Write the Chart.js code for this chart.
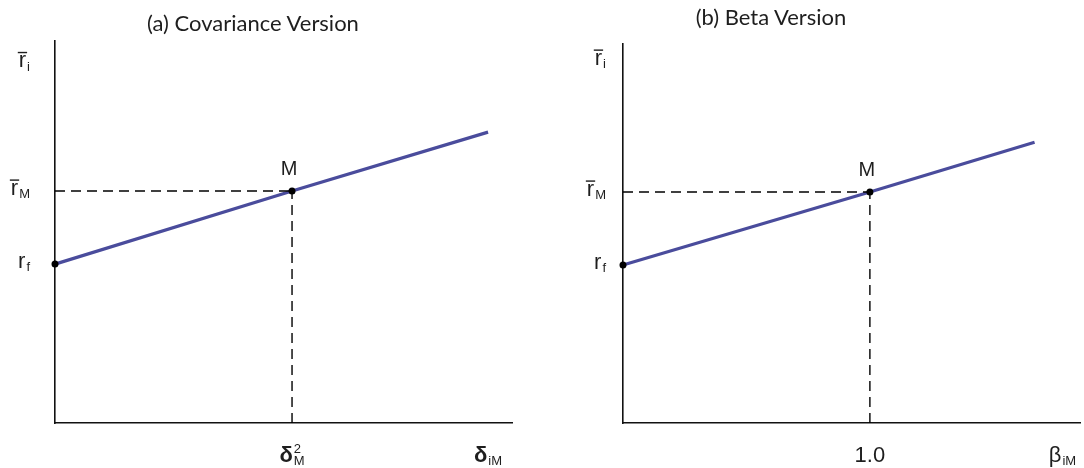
<!DOCTYPE html>
<html>
<head>
<meta charset="utf-8">
<script src="https://cdn.jsdelivr.net/npm/chart.js@4.4.1/dist/chart.umd.min.js"></script>
<style>
body { margin: 0; background: #fff; }
#wrap { position: relative; width: 1084px; height: 468px; overflow: hidden; }
#wrap canvas { position: absolute; top: 0; }
.title { position: absolute; width: 400px; text-align: center; font: 22px Lato, "Open Sans", sans-serif; color: #1e1e1e; line-height: 26px; }
</style>
</head>
<body>
<div id="wrap">
    <canvas id="covChart" width="560" height="468" style="left:0"></canvas>
    <canvas id="betaChart" width="524" height="468" style="left:560px"></canvas>
    <div class="title" style="left:53px; top:10px">(a) Covariance Version</div>
    <div class="title" style="left:571px; top:4px">(b) Beta Version</div>
</div>
<script>
// (a) covariance version - market portfolio M sits at x = 1, y = 1
var covX = [0, 1, 1.827];
var covY = [0.685, 1, 1.254];
var covPointNames = ['', 'M', ''];
var covXMax = 1.928;
var covYMax = 1.647;
var covYTicks = [1.55, 1, 0.685];
var covYLabels = [{t: 'r', sub: 'i', bar: true}, {t: 'r', sub: 'M', bar: true}, {t: 'r', sub: 'f'}];
var covXTicks = [1, 1.827];
var covXLabels = [{t: 'δ', sub: 'M', sup: '2', bold: true}, {t: 'δ', sub: 'iM', bold: true}];

// (b) beta version
var betaX = [0, 1, 1.667];
var betaY = [0.684, 1, 1.216];
var betaPointNames = ['', 'M', ''];
var betaXMax = 1.851;
var betaYMax = 1.641;
var betaYTicks = [1.567, 1, 0.684];
var betaYLabels = [{t: 'r', sub: 'i', bar: true}, {t: 'r', sub: 'M', bar: true}, {t: 'r', sub: 'f'}];
var betaXTicks = [1, 1.78];
var betaXLabels = [{t: '1.0'}, {t: 'β', sub: 'iM'}];

var FONT = '"Liberation Sans", Arial, sans-serif';
var LINE_COLOR = '#4a4c9c';

function drawLabel(ctx, lab, x, y, align, size, small) {
    var mainFont = (lab.bold ? 'bold ' : '') + size + 'px ' + FONT;
    ctx.font = mainFont;
    var w = ctx.measureText(lab.t).width;
    ctx.font = small + 'px ' + FONT;
    var ws = lab.sub ? ctx.measureText(lab.sub).width : 0;
    var wp = lab.sup ? ctx.measureText(lab.sup).width : 0;
    var total = w + Math.max(ws, wp) + (ws || wp ? 1 : 0);
    var x0 = align === 'right' ? x - total : x - total / 2;
    ctx.fillStyle = '#1e1e1e';
    ctx.textAlign = 'left';
    ctx.textBaseline = 'alphabetic';
    ctx.font = mainFont;
    ctx.fillText(lab.t, x0, y);
    ctx.font = small + 'px ' + FONT;
    if (lab.sub) ctx.fillText(lab.sub, x0 + w + 1, y + size * 0.15);
    if (lab.sup) ctx.fillText(lab.sup, x0 + w + 1, y - size * 0.42);
    if (lab.bar) {
        ctx.strokeStyle = '#1e1e1e';
        ctx.lineWidth = 1.4;
        ctx.beginPath();
        ctx.moveTo(x0 - 1, y - size * 0.68);
        ctx.lineTo(x0 + w + 1, y - size * 0.68);
        ctx.stroke();
    }
}

function labelPlugin(p) {
    return {
        id: 'axisLabels',
        afterDraw: function(chart) {
            var ctx = chart.ctx;
            var xs = chart.scales.x, ys = chart.scales.y;
            ctx.save();
            p.yTicks.forEach(function(v, i) {
                drawLabel(ctx, p.yLabels[i], xs.left - p.yGap, ys.getPixelForValue(v) + 4, 'right', 22, 13);
            });
            p.xTicks.forEach(function(v, i) {
                drawLabel(ctx, p.xLabels[i], xs.getPixelForValue(v), ys.bottom + 39, 'center', 22, 13);
            });
            p.names.forEach(function(n, i) {
                if (!n) return;
                ctx.font = '20px ' + FONT;
                ctx.fillStyle = '#1e1e1e';
                ctx.textAlign = 'center';
                ctx.textBaseline = 'alphabetic';
                ctx.fillText(n, xs.getPixelForValue(p.px[i]) - 3, ys.getPixelForValue(p.py[i]) - 16);
            });
            ctx.restore();
        }
    };
}

function makeChart(id, p) {
    var linePts = p.px.map(function(x, i) { return {x: x, y: p.py[i]}; });
    var mx = p.px[1], my = p.py[1];
    var dashed = {
        borderColor: '#000', borderWidth: 1.4, borderDash: [10, 6],
        pointRadius: 0, showLine: true, clip: false, fill: false
    };
    return new Chart(document.getElementById(id).getContext('2d'), {
        type: 'scatter',
        data: {
            datasets: [
                Object.assign({data: [{x: 0, y: my}, {x: mx, y: my}]}, dashed),
                Object.assign({data: [{x: mx, y: 0}, {x: mx, y: my}]}, dashed),
                {
                    data: linePts,
                    showLine: true,
                    borderColor: LINE_COLOR,
                    borderWidth: 3.2,
                    pointRadius: [3.5, 3.5, 0],
                    pointBackgroundColor: '#000',
                    pointBorderWidth: 0,
                    clip: false
                }
            ]
        },
        options: {
            responsive: false,
            animation: false,
            layout: { padding: p.pad },
            plugins: { legend: { display: false }, tooltip: { enabled: false } },
            scales: {
                x: {
                    type: 'linear', min: 0, max: p.xMax,
                    grid: { display: false, drawTicks: false },
                    ticks: { display: false },
                    border: { display: true, color: '#111', width: 1.6 }
                },
                y: {
                    type: 'linear', min: 0, max: p.yMax,
                    grid: { display: false, drawTicks: false },
                    ticks: { display: false },
                    border: { display: true, color: '#111', width: 1.6 }
                }
            }
        },
        plugins: [labelPlugin(p)]
    });
}

makeChart('covChart', {
    px: covX, py: covY, names: covPointNames, xMax: covXMax, yMax: covYMax,
    yTicks: covYTicks, yLabels: covYLabels, xTicks: covXTicks, xLabels: covXLabels,
    yGap: 25, pad: { left: 55, right: 48, top: 41, bottom: 45 }
});
makeChart('betaChart', {
    px: betaX, py: betaY, names: betaPointNames, xMax: betaXMax, yMax: betaYMax,
    yTicks: betaYTicks, yLabels: betaYLabels, xTicks: betaXTicks, xLabels: betaXLabels,
    yGap: 17, pad: { left: 63, right: 0, top: 44, bottom: 45 }
});
</script>
</body>
</html>
